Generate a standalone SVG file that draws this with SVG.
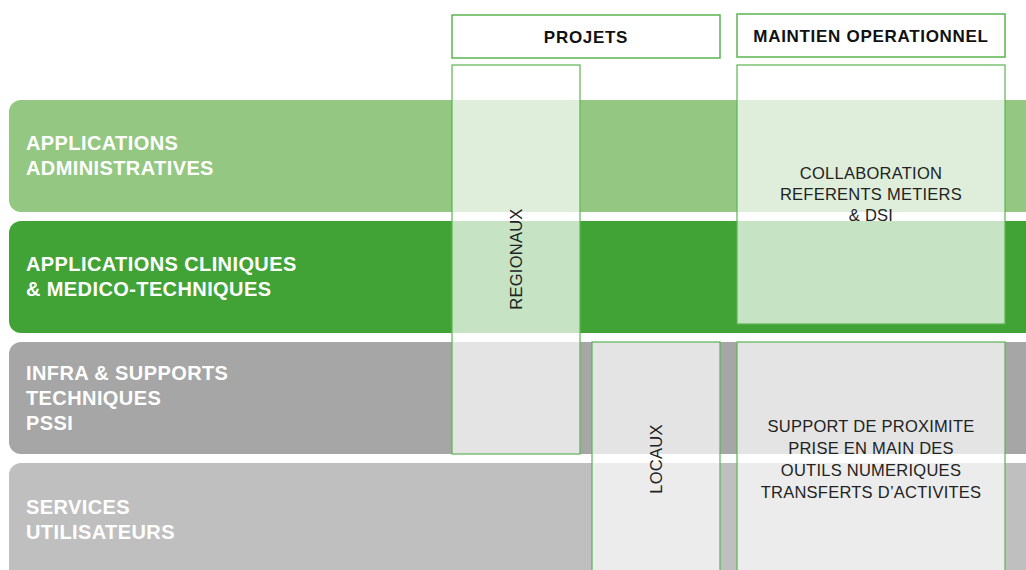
<svg xmlns="http://www.w3.org/2000/svg" width="1026" height="570" viewBox="0 0 1026 570">
<style>
.band-label{font-family:"Liberation Sans",Arial,sans-serif;font-size:20px;font-weight:bold;letter-spacing:0.4px;fill:#ffffff}
.hdr{fill:#ffffff;stroke:#5ab552;stroke-width:1.5}
.hdr-text{font-family:"Liberation Sans",Arial,sans-serif;font-size:17px;font-weight:bold;letter-spacing:0.7px;fill:#111111;text-anchor:middle}
.col{fill:#ffffff;fill-opacity:0.7;stroke:#5ab552;stroke-width:1.2}
.col-text{font-family:"Liberation Sans",Arial,sans-serif;font-size:16.5px;letter-spacing:0.25px;fill:#222222;text-anchor:middle}
</style>
<rect width="1026" height="570" fill="#ffffff"/>
<g id="band-admin">
<rect x="9" y="100" width="1040" height="112" rx="12" fill="#94c782"/>
<text class="band-label" x="26" y="150">APPLICATIONS</text>
<text class="band-label" x="26" y="175">ADMINISTRATIVES</text>
</g>
<g id="band-cliniques">
<rect x="9" y="221" width="1040" height="112" rx="12" fill="#41a336"/>
<text class="band-label" x="26" y="271">APPLICATIONS CLINIQUES</text>
<text class="band-label" x="26" y="296">&amp; MEDICO-TECHNIQUES</text>
</g>
<g id="band-infra">
<rect x="9" y="342" width="1040" height="112" rx="12" fill="#a6a6a6"/>
<text class="band-label" x="26" y="380">INFRA &amp; SUPPORTS</text>
<text class="band-label" x="26" y="405">TECHNIQUES</text>
<text class="band-label" x="26" y="430">PSSI</text>
</g>
<g id="band-services">
<rect x="9" y="463" width="1040" height="130" rx="12" fill="#bfbfbf"/>
<text class="band-label" x="26" y="514">SERVICES</text>
<text class="band-label" x="26" y="539">UTILISATEURS</text>
</g>
<g id="hdr-projets">
<rect class="hdr" x="452" y="15" width="268" height="43"/>
<text class="hdr-text" x="586" y="43">PROJETS</text>
</g>
<g id="hdr-maintien">
<rect class="hdr" x="737" y="14" width="268" height="43"/>
<text class="hdr-text" x="871" y="42">MAINTIEN OPERATIONNEL</text>
</g>
<g id="col-regionaux">
<rect class="col" x="452" y="65" width="128" height="389"/>
<text class="col-text" transform="translate(522,259) rotate(-90)">REGIONAUX</text>
</g>
<g id="col-collab">
<rect class="col" x="737" y="65" width="268" height="259"/>
<text class="col-text" x="871" y="179">COLLABORATION</text>
<text class="col-text" x="871" y="200">REFERENTS METIERS</text>
<text class="col-text" x="871" y="221">&amp; DSI</text>
</g>
<g id="col-locaux">
<rect class="col" x="592" y="342" width="128" height="240"/>
<text class="col-text" transform="translate(662,459) rotate(-90)">LOCAUX</text>
</g>
<g id="col-support">
<rect class="col" x="737" y="342" width="268" height="240"/>
<text class="col-text" x="871" y="432">SUPPORT DE PROXIMITE</text>
<text class="col-text" x="871" y="454">PRISE EN MAIN DES</text>
<text class="col-text" x="871" y="476">OUTILS NUMERIQUES</text>
<text class="col-text" x="871" y="498">TRANSFERTS D’ACTIVITES</text>
</g>
<g id="connectors"></g>
</svg>
